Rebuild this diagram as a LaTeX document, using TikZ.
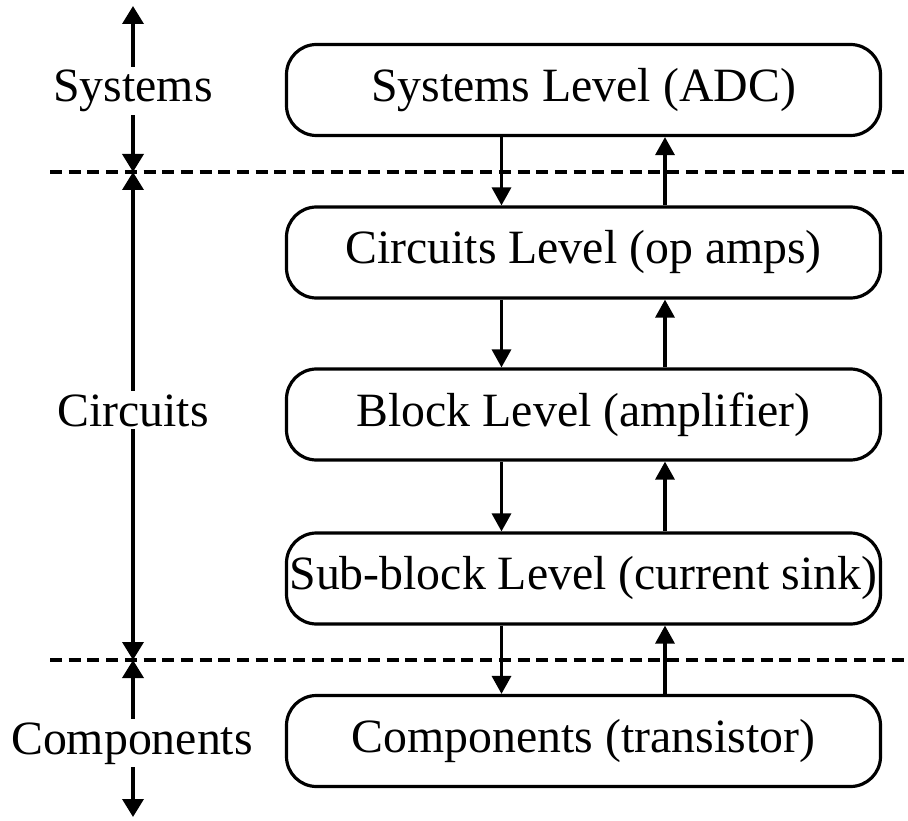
\documentclass[tikz,border=0pt]{standalone}
\usepackage{fontspec}
\setmainfont{Liberation Serif}
\usetikzlibrary{arrows.meta}
\begin{document}
\begin{tikzpicture}[x=1pt,y=-1pt,
  lvl/.style={draw,line width=3.2pt,rounded corners=30pt,minimum width=594pt,minimum height=91pt,inner sep=0pt,font=\fontsize{47.8}{50}\selectfont},
  lab/.style={fill=white,inner xsep=2pt,inner ysep=3pt,font=\fontsize{47.8}{50}\selectfont},
  flow/.style={line width=3.3pt,-{Triangle[length=18pt,width=19pt]}},
  axis/.style={line width=3.6pt,{Triangle[length=18pt,width=21pt]}-{Triangle[length=18pt,width=21pt]}},
  sep/.style={line width=4pt,dash pattern=on 12pt off 6.7pt}]
\useasboundingbox (0,0) rectangle (908,821);
% separators
\coordinate (s1l) at (50,172); \coordinate (s1r) at (908,172);
\coordinate (s2l) at (50,660); \coordinate (s2r) at (908,660);
\draw[sep] (s1l) -- (s1r);
\draw[sep] (s2l) -- (s2r);
% boxes
\node[lvl] (sys) at (583.5,90) {Systems Level (ADC)};
\node[lvl] (cir) at (583.5,252.5) {Circuits Level (op amps)};
\node[lvl] (blk) at (583.5,414.5) {Block Level (amplifier)};
\node[lvl] (sub) at (583.5,578.5) {Sub-block Level (current sink)};
\node[lvl] (cmp) at (583.5,741) {Components (transistor)};
% flow arrows
\coordinate (dx) at (501.5,0);
\coordinate (ux) at (665,0);
\draw[flow] (sys.south -| dx) -- (cir.north -| dx);
\draw[flow] (cir.north -| ux) -- (sys.south -| ux);
\draw[flow] (cir.south -| dx) -- (blk.north -| dx);
\draw[flow] (blk.north -| ux) -- (cir.south -| ux);
\draw[flow] (blk.south -| dx) -- (sub.north -| dx);
\draw[flow] (sub.north -| ux) -- (blk.south -| ux);
\draw[flow] (sub.south -| dx) -- (cmp.north -| dx);
\draw[flow] (cmp.north -| ux) -- (sub.south -| ux);
% left axis
\coordinate (a0) at (133,6);
\coordinate (a1) at (133,172);
\coordinate (a2) at (133,660);
\coordinate (a3) at (133,817);
\draw[axis] (a0) -- (a1);
\draw[axis] (a1) -- (a2);
\draw[axis] (a2) -- (a3);
\node[lab,anchor=base] (lsys) at (133,102) {Systems};
\node[lab,anchor=base] (lcir) at (133,426) {Circuits};
\node[lab,anchor=base] (lcmp) at (132,754) {Components};
\end{tikzpicture}
\end{document}
